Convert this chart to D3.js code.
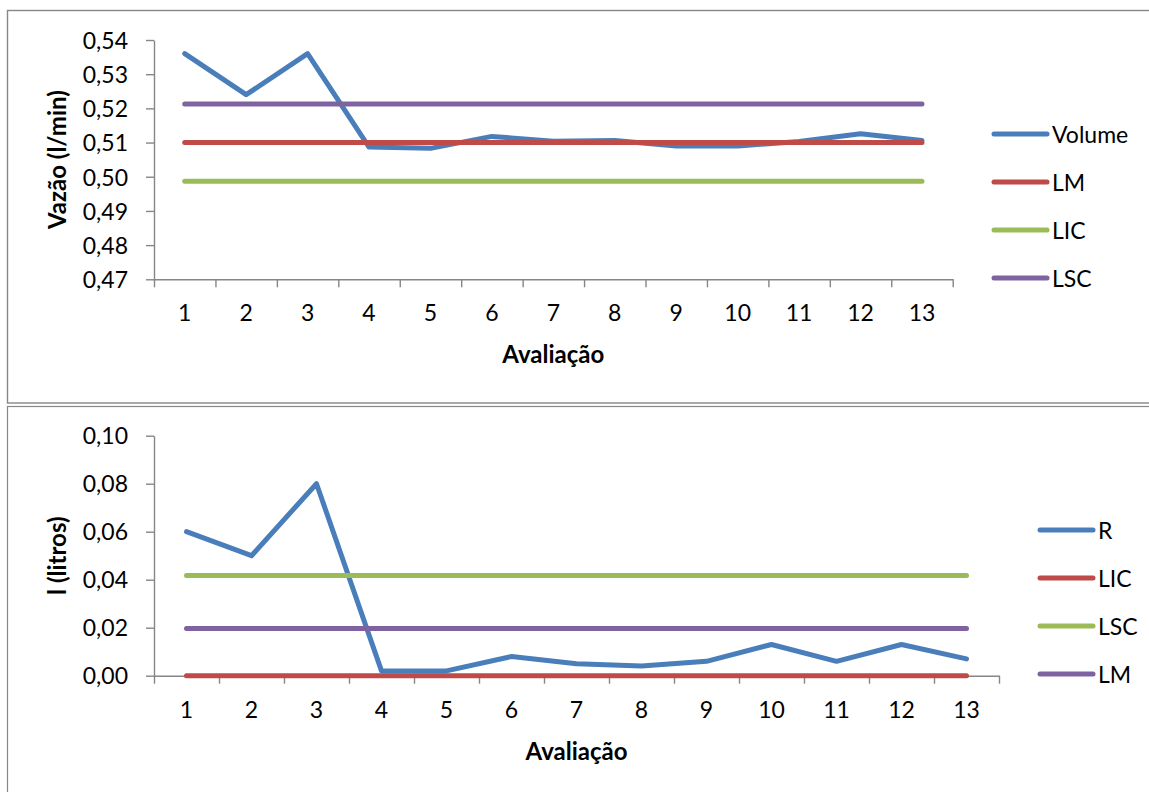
<!DOCTYPE html>
<html>
<head>
<meta charset="utf-8">
<script src="https://cdn.jsdelivr.net/npm/d3@7/dist/d3.min.js"></script>
<style>
  html, body { margin: 0; padding: 0; background: #ffffff; }
  svg { display: block; }
  text { font-family: Lato, "Open Sans", sans-serif; fill: #000; }
</style>
</head>
<body>
<svg id="chart" width="1149" height="792"></svg>
<script>
// Evaluation numbers (shared by both control charts)
const avaliacoes = ["1", "2", "3", "4", "5", "6", "7", "8", "9", "10", "11", "12", "13"];

// Flow-rate chart (l/min)
const volume = [0.536, 0.524, 0.536, 0.5087, 0.5083, 0.5118, 0.5104, 0.5106, 0.5090, 0.5090, 0.5103, 0.5126, 0.5106];
const vazaoLM = 0.5100;
const vazaoLIC = 0.4987;
const vazaoLSC = 0.5213;
const vazaoTicks = [0.47, 0.48, 0.49, 0.50, 0.51, 0.52, 0.53, 0.54];

// Range chart (litros)
const amplitude = [0.060, 0.050, 0.080, 0.002, 0.002, 0.008, 0.005, 0.004, 0.006, 0.013, 0.006, 0.013, 0.007];
const rLIC = 0.000;
const rLSC = 0.0417;
const rLM = 0.0197;
const rTicks = [0.00, 0.02, 0.04, 0.06, 0.08, 0.10];

const COLORS = { blue: "#4A7EBB", red: "#BE4B48", green: "#9BBB59", purple: "#7F63A1" };
const AXIS = "#868686";

const svg = d3.select("#chart");

// Frames around each chart area
svg.append("rect").attr("x", 7.5).attr("y", 10.5).attr("width", 1160).attr("height", 392.5)
  .attr("fill", "none").attr("stroke", "#878787").attr("stroke-width", 1.4);
svg.append("rect").attr("x", 7.5).attr("y", 406.5).attr("width", 1160).attr("height", 400)
  .attr("fill", "none").attr("stroke", "#878787").attr("stroke-width", 1.2);

const fmt = d => d.toFixed(2).replace(".", ",");

function drawChart(cfg) {
  const g = svg.append("g");
  const x = d3.scaleBand().domain(avaliacoes).range([cfg.left, cfg.right]).padding(0);
  const y = d3.scaleLinear().domain(cfg.yDomain).range([cfg.bottom, cfg.top]);
  const xc = d => x(d) + x.bandwidth() / 2;

  // Y axis
  const yAxis = g.append("g").attr("transform", `translate(${cfg.left},0)`)
    .call(d3.axisLeft(y).tickValues(cfg.yTicks).tickFormat(fmt).tickSize(8).tickPadding(18).tickSizeOuter(0));
  yAxis.select(".domain").attr("stroke", AXIS).attr("stroke-width", 1.4);
  yAxis.selectAll(".tick line").attr("stroke", AXIS).attr("stroke-width", 1.4);
  yAxis.selectAll(".tick text").attr("font-size", 23).attr("dy", "0.36em");

  // X axis: tick marks between categories, labels centred in each category
  const xEdges = d3.scaleLinear().domain([0, avaliacoes.length]).range([cfg.left, cfg.right]);
  const xTickAxis = g.append("g").attr("transform", `translate(0,${cfg.bottom})`)
    .call(d3.axisBottom(xEdges).tickValues(d3.range(avaliacoes.length + 1)).tickFormat("").tickSize(8).tickSizeOuter(0));
  xTickAxis.select(".domain").attr("stroke", AXIS).attr("stroke-width", 1.4);
  xTickAxis.selectAll(".tick line").attr("stroke", AXIS).attr("stroke-width", 1.4);

  const xLabelAxis = g.append("g").attr("transform", `translate(0,${cfg.bottom})`)
    .call(d3.axisBottom(x).tickSize(0).tickPadding(0));
  xLabelAxis.select(".domain").remove();
  xLabelAxis.selectAll(".tick text").attr("font-size", 23).attr("y", 0).attr("dy", 42);

  // Axis titles
  g.append("text")
    .attr("x", (cfg.left + cfg.right) / 2).attr("y", cfg.bottom + 84)
    .attr("text-anchor", "middle").attr("font-size", 24).attr("font-weight", "bold")
    .text("Avaliação");
  g.append("text")
    .attr("transform", `translate(66,${(cfg.top + cfg.bottom) / 2}) rotate(-90)`)
    .attr("text-anchor", "middle").attr("font-size", 24).attr("font-weight", "bold")
    .text(cfg.yTitle);

  // Series
  const line = d3.line().x(d => xc(d.cat)).y(d => y(d.v));
  cfg.series.forEach(s => {
    const pts = avaliacoes.map((c, i) => ({ cat: c, v: Array.isArray(s.values) ? s.values[i] : s.values }));
    g.append("path").datum(pts).attr("d", line)
      .attr("fill", "none").attr("stroke", s.color).attr("stroke-width", 5)
      .attr("stroke-linecap", "round").attr("stroke-linejoin", "round");
  });

  // Legend
  const leg = g.append("g");
  cfg.series.forEach((s, i) => {
    const ly = cfg.legendY + i * 48;
    leg.append("line").attr("x1", cfg.legendX).attr("x2", cfg.legendX + 53)
      .attr("y1", ly).attr("y2", ly)
      .attr("stroke", s.color).attr("stroke-width", 5).attr("stroke-linecap", "round");
    leg.append("text").attr("x", cfg.legendX + 58).attr("y", ly + 8.5)
      .attr("font-size", 23).text(s.name);
  });
}

drawChart({
  left: 154, right: 952.7, top: 40, bottom: 279.3,
  yDomain: [0.47, 0.54], yTicks: vazaoTicks, yTitle: "Vazão (l/min)",
  legendX: 994, legendY: 134,
  series: [
    { name: "Volume", values: volume, color: COLORS.blue },
    { name: "LM", values: vazaoLM, color: COLORS.red },
    { name: "LIC", values: vazaoLIC, color: COLORS.green },
    { name: "LSC", values: vazaoLSC, color: COLORS.purple }
  ]
});

drawChart({
  left: 154, right: 999, top: 435.7, bottom: 675.7,
  yDomain: [0, 0.10], yTicks: rTicks, yTitle: "l (litros)",
  legendX: 1040, legendY: 530,
  series: [
    { name: "R", values: amplitude, color: COLORS.blue },
    { name: "LIC", values: rLIC, color: COLORS.red },
    { name: "LSC", values: rLSC, color: COLORS.green },
    { name: "LM", values: rLM, color: COLORS.purple }
  ]
});
</script>
</body>
</html>
